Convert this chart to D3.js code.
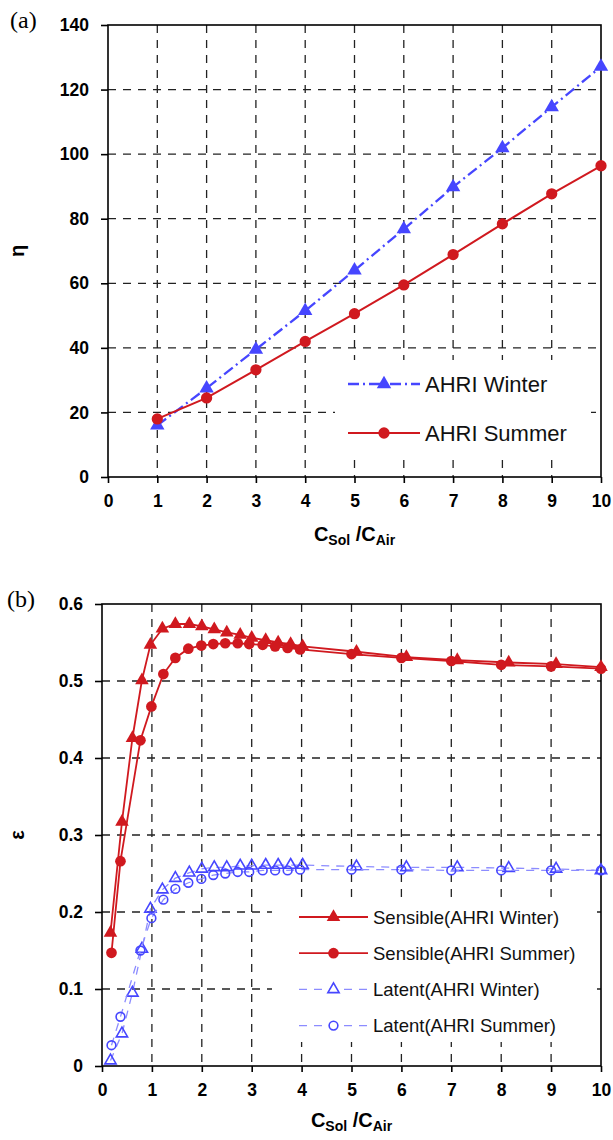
<!DOCTYPE html>
<html>
<head>
<meta charset="utf-8">
<script src="https://cdn.jsdelivr.net/npm/d3@7"></script>
<style>
  body { margin: 0; background: #fff; }
  svg { display: block; }
  .tick text { font-family: "Liberation Sans", Arial, sans-serif; font-weight: bold; }
</style>
</head>
<body>
<script>
// ---- data ----

// panel (a): eta vs C_sol/C_air
var ratioA = [1, 2, 3, 4, 5, 6, 7, 8, 9, 10];
var etaWinter = [16, 27.5, 39.5, 51.5, 64, 76.8, 89.8, 101.9, 114.6, 127.1];
var etaSummer = [18, 24.5, 33.2, 42, 50.6, 59.5, 68.9, 78.4, 87.7, 96.4];
var ticksA_x = [0, 1, 2, 3, 4, 5, 6, 7, 8, 9, 10];
var ticksA_y = [0, 20, 40, 60, 80, 100, 120, 140];

// panel (b): effectiveness vs C_sol/C_air
var ratioWinter = [0.17, 0.4, 0.61, 0.8, 0.97, 1.21, 1.47, 1.75, 2.0, 2.25, 2.5, 2.77, 3.0, 3.28, 3.53, 3.78, 4.02, 5.1, 6.1, 7.12, 8.15, 9.1, 10];
var sensWinter = [0.173, 0.317, 0.426, 0.501, 0.547, 0.568, 0.574, 0.574, 0.571, 0.567, 0.563, 0.560, 0.556, 0.553, 0.550, 0.548, 0.545, 0.538, 0.531, 0.527, 0.524, 0.522, 0.518];
var latWinter = [0.007, 0.042, 0.095, 0.152, 0.204, 0.229, 0.244, 0.251, 0.256, 0.258, 0.258, 0.260, 0.260, 0.261, 0.261, 0.261, 0.261, 0.259, 0.258, 0.258, 0.257, 0.256, 0.254];
var ratioSummer = [0.19, 0.37, 0.77, 0.99, 1.23, 1.47, 1.73, 1.99, 2.23, 2.47, 2.72, 2.95, 3.22, 3.47, 3.72, 3.97, 5.0, 6.0, 7.0, 8.0, 9.0, 10];
var sensSummer = [0.147, 0.266, 0.423, 0.467, 0.509, 0.530, 0.542, 0.546, 0.548, 0.549, 0.549, 0.548, 0.547, 0.545, 0.543, 0.541, 0.535, 0.530, 0.526, 0.521, 0.519, 0.516];
var latSummer = [0.027, 0.064, 0.150, 0.192, 0.216, 0.230, 0.238, 0.243, 0.248, 0.250, 0.252, 0.252, 0.254, 0.254, 0.254, 0.255, 0.255, 0.255, 0.254, 0.254, 0.254, 0.254];
var ticksB_x = [0, 1, 2, 3, 4, 5, 6, 7, 8, 9, 10];
var ticksB_y = [0, 0.1, 0.2, 0.3, 0.4, 0.5, 0.6];

var RED = "#d0191f";
var BLUE = "#4646ff";
var LIGHTBLUE = "#8c8cff";
var FONT = "'Liberation Sans', Arial, sans-serif";

var svg = d3.select("body").append("svg")
    .attr("width", 613)
    .attr("height", 1140);

function zip(xs, ys) {
	return xs.map(function(x, i) { return [x, ys[i]]; });
}

// draws frame, grid, ticks and axis titles; returns the scales
function makePanel(cfg) {
	var x = d3.scaleLinear().domain([0, 10]).range([cfg.left, cfg.right]);
	var y = d3.scaleLinear().domain(cfg.yDomain).range([cfg.bottom, cfg.top]);
	var g = svg.append("g");

	// dashed grid
	g.selectAll(".vgrid")
	  .data(cfg.xticks.slice(1, -1))
	  .enter().append("line")
	  .attr("x1", function(d) { return x(d); })
	  .attr("x2", function(d) { return x(d); })
	  .attr("y1", cfg.top)
	  .attr("y2", cfg.bottom)
	  .attr("stroke", "#222")
	  .attr("stroke-width", 1.3)
	  .attr("stroke-dasharray", "8,7");

	g.selectAll(".hgrid")
	  .data(cfg.yticks.slice(1, -1))
	  .enter().append("line")
	  .attr("x1", cfg.left)
	  .attr("x2", cfg.right)
	  .attr("y1", function(d) { return y(d); })
	  .attr("y2", function(d) { return y(d); })
	  .attr("stroke", "#222")
	  .attr("stroke-width", 1.3)
	  .attr("stroke-dasharray", "8,7");

	// legend box hides the grid behind it
	g.append("rect")
	  .attr("x", cfg.legendBox[0]).attr("y", cfg.legendBox[1])
	  .attr("width", cfg.legendBox[2]).attr("height", cfg.legendBox[3])
	  .attr("fill", "#fff");

	// frame
	g.append("rect")
	  .attr("x", cfg.left).attr("y", cfg.top)
	  .attr("width", cfg.right - cfg.left)
	  .attr("height", cfg.bottom - cfg.top)
	  .attr("fill", "none")
	  .attr("stroke", "#000")
	  .attr("stroke-width", 1.6);

	var xAxis = g.append("g")
	  .attr("transform", "translate(0," + cfg.bottom + ")")
	  .call(d3.axisBottom(x).tickValues(cfg.xticks).tickSize(6).tickPadding(12).tickFormat(d3.format("d")));
	xAxis.select(".domain").remove();
	xAxis.selectAll("line").attr("stroke-width", 1.6);
	xAxis.selectAll("text").attr("font-size", 17.5).attr("fill", "#000");

	var yAxis = g.append("g")
	  .attr("transform", "translate(" + cfg.left + ",0)")
	  .call(d3.axisLeft(y).tickValues(cfg.yticks).tickSize(7).tickPadding(12).tickFormat(cfg.yFormat));
	yAxis.select(".domain").remove();
	yAxis.selectAll("line").attr("stroke-width", 1.6);
	yAxis.selectAll("text").attr("font-size", 17.5).attr("fill", "#000");

	// x title with subscripts
	var t = g.append("text")
	  .attr("x", (cfg.left + cfg.right) / 2)
	  .attr("y", cfg.xTitleY)
	  .attr("text-anchor", "middle")
	  .attr("font-family", FONT)
	  .attr("font-weight", "bold")
	  .attr("font-size", 20);
	t.append("tspan").text("C");
	t.append("tspan").attr("font-size", 14).attr("dy", 4).text("Sol");
	t.append("tspan").attr("dy", -4).text(" /C");
	t.append("tspan").attr("font-size", 14).attr("dy", 4).text("Air");

	// y title
	g.append("text")
	  .attr("transform", "translate(" + cfg.yTitleX + "," + ((cfg.top + cfg.bottom) / 2) + ") rotate(-90)")
	  .attr("text-anchor", "middle")
	  .attr("font-family", FONT)
	  .attr("font-weight", "bold")
	  .attr("font-size", 20)
	  .text(cfg.yTitle);

	// panel letter
	svg.append("text")
	  .attr("x", cfg.letterPos[0]).attr("y", cfg.letterPos[1])
	  .attr("font-family", "'Liberation Serif', 'Times New Roman', serif")
	  .attr("font-size", 24)
	  .text(cfg.letter);

	return { x: x, y: y, g: g };
}

function drawSeries(p, data, s) {
	var line = d3.line()
	  .x(function(d) { return p.x(d[0]); })
	  .y(function(d) { return p.y(d[1]); });

	p.g.append("path")
	  .datum(data)
	  .attr("d", line)
	  .attr("fill", "none")
	  .attr("stroke", s.lineColor)
	  .attr("stroke-width", s.lineWidth)
	  .attr("stroke-dasharray", s.dash);

	p.g.selectAll(null)
	  .data(data)
	  .enter().append("path")
	  .attr("transform", function(d) { return "translate(" + p.x(d[0]) + "," + p.y(d[1]) + ")"; })
	  .attr("d", d3.symbol().type(s.symbol).size(s.size))
	  .attr("fill", s.open ? "#fff" : s.color)
	  .attr("fill-opacity", s.open ? 0 : 1)
	  .attr("stroke", s.open ? s.color : "none")
	  .attr("stroke-width", 1.6);
}

function drawLegend(p, items, cfg) {
	items.forEach(function(s, i) {
		var yy = cfg.y0 + i * cfg.dy;
		p.g.append("line")
		  .attr("x1", cfg.x1).attr("x2", cfg.x2)
		  .attr("y1", yy).attr("y2", yy)
		  .attr("stroke", s.lineColor)
		  .attr("stroke-width", s.lineWidth)
		  .attr("stroke-dasharray", s.dash);
		p.g.append("path")
		  .attr("transform", "translate(" + ((cfg.x1 + cfg.x2) / 2) + "," + yy + ")")
		  .attr("d", d3.symbol().type(s.symbol).size(s.size))
		  .attr("fill", s.open ? "#fff" : s.color)
		  .attr("stroke", s.open ? s.color : "none")
		  .attr("stroke-width", 1.6);
		p.g.append("text")
		  .attr("x", cfg.x2 + 5)
		  .attr("y", yy + cfg.fontSize * 0.36)
		  .attr("font-family", FONT)
		  .attr("font-size", cfg.fontSize)
		  .attr("fill", "#111")
		  .text(s.name);
	});
}

// ---- panel (a) ----
var pa = makePanel({
	left: 108, right: 601, top: 25, bottom: 477,
	yDomain: [0, 140], xticks: ticksA_x, yticks: ticksA_y,
	yFormat: d3.format("d"),
	xTitleY: 541, yTitle: "\u03b7", yTitleX: 24,
	legendBox: [335, 360, 256, 96],
	letter: "(a)", letterPos: [10, 28]
});

var winterA = { name: "AHRI Winter", color: BLUE, lineColor: BLUE, lineWidth: 2.3, dash: "11,4,2,4", symbol: d3.symbolTriangle, size: 90, open: false };
var summerA = { name: "AHRI Summer", color: RED, lineColor: RED, lineWidth: 2, dash: null, symbol: d3.symbolCircle, size: 100, open: false };

drawSeries(pa, zip(ratioA, etaWinter), winterA);
drawSeries(pa, zip(ratioA, etaSummer), summerA);
drawLegend(pa, [winterA, summerA], { x1: 348, x2: 420, y0: 384, dy: 49, fontSize: 22 });

// ---- panel (b) ----
var pb = makePanel({
	left: 102, right: 601, top: 604, bottom: 1066,
	yDomain: [0, 0.6], xticks: ticksB_x, yticks: ticksB_y,
	yFormat: function(d) { return d === 0 ? "0" : d3.format(".1f")(d); },
	xTitleY: 1127, yTitle: "\u03b5", yTitleX: 24,
	legendBox: [272, 898, 324, 144],
	letter: "(b)", letterPos: [7, 607]
});

var sensW = { name: "Sensible(AHRI Winter)", color: RED, lineColor: RED, lineWidth: 1.8, dash: null, symbol: d3.symbolTriangle, size: 80, open: false };
var sensS = { name: "Sensible(AHRI Summer)", color: RED, lineColor: RED, lineWidth: 1.8, dash: null, symbol: d3.symbolCircle, size: 90, open: false };
var latW = { name: "Latent(AHRI Winter)", color: BLUE, lineColor: LIGHTBLUE, lineWidth: 1.3, dash: "8,7", symbol: d3.symbolTriangle, size: 55, open: true };
var latS = { name: "Latent(AHRI Summer)", color: BLUE, lineColor: LIGHTBLUE, lineWidth: 1.3, dash: "8,7", symbol: d3.symbolCircle, size: 60, open: true };

drawSeries(pb, zip(ratioWinter, latWinter), latW);
drawSeries(pb, zip(ratioSummer, latSummer), latS);
drawSeries(pb, zip(ratioWinter, sensWinter), sensW);
drawSeries(pb, zip(ratioSummer, sensSummer), sensS);
drawLegend(pb, [sensW, sensS, latW, latS], { x1: 299, x2: 368, y0: 917, dy: 36.2, fontSize: 18.5 });
</script>
</body>
</html>
